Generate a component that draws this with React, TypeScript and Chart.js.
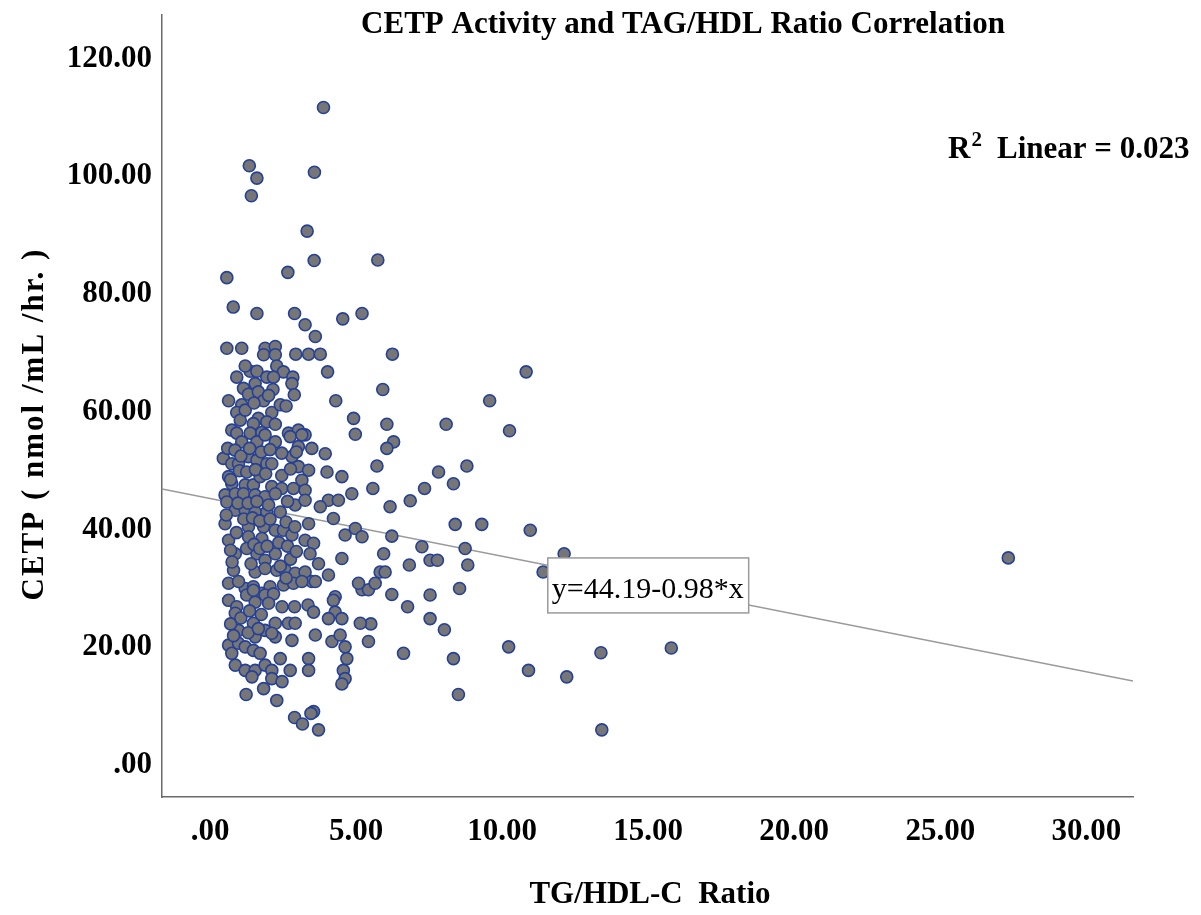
import React, { useEffect, useRef } from "react";
import { Chart, registerables } from "chart.js";
Chart.register(...registerables);

// TG/HDL-C ratio (x) and CETP activity (y)
const ratio = [
  3.88, 1.34, 1.6, 3.57, 1.41, 3.32, 5.74, 6.24, 10.82,
  3.56, 2.66, 0.57, 0.79, 1.6, 2.89, 3.25, 3.6, 4.54, 5.2, 0.57, 1.08, 1.88, 2.23, 1.83, 2.23, 2.93, 3.37, 3.77,
  2.28, 2.51, 4.02, 1.37, 1.6, 0.91, 1.94, 2.17, 2.83, 1.54, 2.8, 1.14, 1.31, 2.15, 2.88, 1.65, 4.3, 0.63, 1.08,
  1.83, 0.91, 2.11, 4.91, 1.03, 1.65, 1.48, 1.94, 2.23, 0.74, 0.91, 1.37, 1.77, 2.68, 3.02, 3.25, 4.97,
  5.91, 9.57, 8.08, 6.05, 10.25, 6.28, 6.05, 5.71, 7.82, 8.79, 8.33, 5.57, 7.34, 6.85, 6.16, 8.39, 9.3, 10.96,
  6.22, 7.25, 8.73, 12.12, 5.94, 7.53, 7.78, 8.82, 6.82, 11.4, 5.82, 5.99, 5.2, 5.42, 5.65, 6.22, 7.53, 8.54,
  6.76, 7.53, 8.02, 5.5, 5.42, 6.62, 8.33, 10.22, 10.9, 12.21, 8.5, 13.38, 13.41, 15.79, 27.33,
  1.08, 1.6, 1.88, 2.23, 2.74, 3.14, 3.02, 3.48, 3.94,
  0.45, 0.74, 0.97, 1.31, 1.6, 1.94, 2.11, 2.8, 3.02, 3.37, 4.0, 4.51,
  0.63, 0.74, 1.2, 1.48, 1.71, 2.11, 2.45, 2.85, 3.14, 3.25, 4.85, 4.05, 4.39, 3.77, 0.51, 0.86, 1.14, 1.54, 1.88, 2.23,
  0.57, 0.86, 1.2, 1.54, 1.94, 2.4, 2.91, 3.25, 3.37, 4.22,
  0.51, 1.31, 1.83, 2.23, 2.51, 2.8, 3.25, 3.54, 0.63, 1.31, 1.77, 4.62, 4.97, 5.2,
  0.86, 1.6, 1.88, 2.23, 3.42, 3.71, 4.51, 0.8, 1.54, 1.88, 2.28, 2.57, 2.91, 3.25, 3.48, 4.05,
  0.63, 1.2, 1.48, 1.77, 2.05, 2.51, 2.85, 3.14, 3.6, 4.28, 5.08, 0.97,
  0.63, 0.91, 1.25, 1.54, 1.88, 2.17, 1.48, 0.86, 2.46, 2.89, 3.35, 3.54, 4.22, 4.28, 4.51, 4.05, 5.14,
  1.48, 2.23, 2.68, 2.91, 1.88, 0.97, 1.54, 2.23, 2.11, 2.8, 3.6, 4.17, 4.45, 4.62, 4.68, 4.56, 4.62, 4.51,
  0.63, 0.74, 0.97, 1.2, 1.48, 1.71, 0.86, 1.2, 1.54, 1.88, 2.11, 1.43, 2.4, 2.74, 3.37, 3.37, 2.11, 2.46,
  1.83, 1.23, 2.28, 2.89, 3.16, 3.54, 3.45, 3.71,
  0.7, 0.75, 0.9, 0.55, 0.95, 0.7, 1.0, 0.6, 0.85, 1.05,
  1.25, 1.4, 1.5, 1.7, 1.95, 1.15, 1.45, 1.7, 2.05, 1.3, 1.6, 2.0, 1.25, 1.55, 1.9, 1.35, 1.75, 2.05,
  2.4, 2.6, 2.75, 2.35, 2.65, 2.95, 2.6, 2.9, 2.65, 2.45, 2.75, 2.45, 2.95,
  0.7, 1.05, 1.35, 1.75, 2.0, 0.8, 1.3, 1.65,
  1.2, 1.5, 2.4, 2.0, 1.2, 2.6,
];
const cetp = [
  111.7, 101.8, 99.7, 100.7, 96.7, 90.7, 85.8, 69.8, 66.8,
  85.7, 83.7, 82.8, 77.8, 76.7, 76.7, 74.8, 72.8, 75.8, 76.7, 70.8, 70.8, 70.8, 71.1, 69.7, 69.7, 69.8, 69.8, 69.8,
  67.8, 66.8, 66.8, 66.9, 66.9, 65.9, 65.9, 65.9, 65.9, 64.8, 64.8, 64.0, 63.0, 63.8, 62.9, 63.4, 61.9, 61.9, 61.2,
  61.9, 59.9, 59.9, 58.9, 58.6, 58.9, 58.0, 58.3, 57.9, 56.9, 56.4, 56.4, 56.5, 56.4, 56.9, 56.1, 56.2,
  63.8, 61.9, 57.9, 57.9, 56.8, 54.9, 53.8, 50.8, 49.8, 50.8, 47.8, 47.0, 47.0, 44.9, 43.9, 40.9, 40.9, 39.9,
  38.9, 37.1, 36.8, 35.9, 35.9, 34.8, 34.8, 34.0, 34.0, 32.8, 32.8, 32.8, 29.8, 29.8, 30.9, 29.0, 28.9, 30.0,
  26.9, 24.9, 23.0, 24.0, 21.0, 19.0, 18.1, 20.1, 16.1, 15.0, 12.0, 19.1, 6.0, 19.9, 35.2,
  54.9, 54.9, 56.1, 54.9, 55.8, 56.1, 54.1, 53.8, 52.9,
  52.1, 51.2, 51.2, 52.4, 51.8, 51.2, 51.2, 52.4, 50.7, 50.1, 49.8, 49.0,
  49.0, 47.8, 47.6, 47.6, 49.0, 47.3, 47.0, 47.0, 48.4, 46.7, 46.1, 45.0, 45.0, 43.9, 45.9, 46.1, 46.1, 45.9, 45.6, 46.1,
  44.7, 43.3, 43.3, 43.0, 43.0, 43.0, 44.2, 45.0, 41.0, 41.9,
  41.0, 40.5, 40.5, 39.9, 39.9, 39.1, 38.2, 37.7, 38.2, 38.8, 38.5, 39.1, 40.2, 38.8,
  35.9, 35.9, 34.8, 35.9, 35.9, 34.2, 35.1, 33.1, 32.8, 33.4, 33.1, 33.1, 32.6, 32.8, 31.2, 32.3,
  30.9, 30.0, 30.3, 29.2, 30.3, 30.6, 30.9, 31.2, 31.2, 28.6, 30.9, 31.2,
  28.0, 26.9, 28.9, 27.7, 28.9, 29.1, 29.7, 25.8, 26.9, 26.9, 27.2, 26.0, 28.0, 26.0, 24.9, 24.9, 24.1,
  24.1, 24.1, 24.1, 24.1, 22.9, 22.9, 21.8, 21.8, 22.4, 21.2, 22.1, 21.0, 22.1, 20.1, 18.1, 16.1, 14.7, 13.8,
  20.4, 19.0, 20.7, 20.1, 19.5, 19.0, 17.0, 16.1, 16.1, 17.0, 16.1, 15.0, 18.1, 16.1, 18.1, 16.1, 14.7, 14.2,
  13.0, 12.0, 11.0, 8.1, 7.0, 9.1, 8.8, 6.0,
  36.5, 34.5, 39.5, 42.5, 44.5, 48.5, 50.0, 53.8, 53.5, 52.5,
  36.8, 34.2, 37.5, 36.8, 37.2, 41.8, 42.0, 41.5, 41.8, 44.5, 44.8, 44.2, 49.8, 50.2, 49.5, 53.8, 53.2, 53.6,
  33.8, 31.8, 35.0, 37.8, 37.2, 36.3, 41.3, 40.5, 44.8, 49.2, 50.3, 53.0, 53.2,
  24.0, 25.0, 26.2, 25.6, 27.5, 22.0, 22.5, 23.2,
  60.3, 61.5, 61.2, 62.8, 67.8, 61.0,
];

// fit line, read at the two ends of the plotted x range
const fitX = [-1.65, 31.6];
const fitY = [46.9, 14.3];

const xTicks = [0, 5, 10, 15, 20, 25, 30];
const yTicks = [0, 20, 40, 60, 80, 100, 120];
const xRange = [-1.65, 31.6];
const yRange = [-5.4, 127.4];
const titleText = "CETP Activity and TAG/HDL Ratio Correlation";
const xTitle = "TG/HDL-C  Ratio";
const yTitle = "CETP ( nmol /mL /hr. )";
const r2Value = "0.023";
const eqText = "y=44.19-0.98*x";
const eqAnchor = [11.56, 35.2];

const SERIF = '"Liberation Serif", "Times New Roman", serif';

const fmt = (v: number) => (v === 0 ? ".00" : v.toFixed(2));

const annotPlugin = {
  id: "annot",
  afterDraw(chart: any) {
    const { ctx, scales } = chart;
    const xs = scales.x;
    const ys = scales.y;
    ctx.save();
    ctx.fillStyle = "#000";
    ctx.textBaseline = "alphabetic";
    ctx.font = `bold 31px ${SERIF}`;
    ctx.textAlign = "center";
    ctx.fillText(titleText, 683, 33);
    ctx.fillText(xTitle, 650, 903);
    ctx.save();
    ctx.translate(43, 424);
    ctx.rotate(-Math.PI / 2);
    (ctx as any).letterSpacing = "2px";
    ctx.fillText(yTitle, 0, 0);
    (ctx as any).letterSpacing = "0px";
    ctx.restore();

    // R² label
    ctx.textAlign = "left";
    ctx.font = `bold 31px ${SERIF}`;
    ctx.fillText("R", 948, 158);
    const wR = ctx.measureText("R").width;
    ctx.font = `bold 21px ${SERIF}`;
    ctx.fillText("2", 948 + wR + 1, 146);
    ctx.font = `bold 31px ${SERIF}`;
    ctx.fillText("Linear = " + r2Value, 997, 158);

    // equation box
    const bx = xs.getPixelForValue(eqAnchor[0]);
    const by = ys.getPixelForValue(eqAnchor[1]);
    ctx.font = `30px ${SERIF}`;
    const tw = ctx.measureText(eqText).width;
    const bw = tw + 9;
    const bh = 55;
    ctx.fillStyle = "#fff";
    ctx.fillRect(bx, by, bw, bh);
    ctx.strokeStyle = "#9a9a9a";
    ctx.lineWidth = 1.5;
    ctx.strokeRect(bx, by, bw, bh);
    ctx.fillStyle = "#000";
    ctx.fillText(eqText, bx + 4, by + 40);
    ctx.restore();
  },
};

export default function App() {
  const ref = useRef<HTMLCanvasElement | null>(null);
  useEffect(() => {
    if (!ref.current) return;
    const points = ratio.map((x, i) => ({ x, y: cetp[i] }));
    const fit = fitX.map((x, i) => ({ x, y: fitY[i] }));
    const chart = new Chart(ref.current, {
      type: "scatter",
      data: {
        datasets: [
          {
            type: "scatter",
            data: points,
            pointRadius: 6,
            pointBorderWidth: 1.6,
            backgroundColor: "#767676",
            borderColor: "#24409a",
            order: 0,
          } as any,
          {
            type: "line",
            data: fit,
            borderColor: "#9a9a9a",
            borderWidth: 1.5,
            pointRadius: 0,
            fill: false,
            order: 1,
          } as any,
        ],
      },
      options: {
        responsive: false,
        maintainAspectRatio: false,
        animation: false,
        layout: { padding: { left: 0, right: 68, top: 15, bottom: 0 } },
        plugins: { legend: { display: false }, tooltip: { enabled: false }, title: { display: false } },
        scales: {
          x: {
            type: "linear",
            min: xRange[0],
            max: xRange[1],
            grid: { display: false, drawTicks: false },
            border: { display: true, color: "#6a6a6a", width: 1.5 },
            afterBuildTicks: (s: any) => {
              s.ticks = xTicks.map((v) => ({ value: v }));
            },
            afterFit: (s: any) => {
              s.height = 118;
              s.paddingLeft = 0;
              s.paddingRight = 0;
            },
            ticks: {
              padding: 16,
              color: "#000",
              font: { family: SERIF, size: 31, weight: "bold" },
              callback: (v: any) => fmt(Number(v)),
              maxRotation: 0,
              autoSkip: false,
            },
          },
          y: {
            type: "linear",
            min: yRange[0],
            max: yRange[1],
            grid: { display: false, drawTicks: false },
            border: { display: true, color: "#6a6a6a", width: 1.5 },
            afterBuildTicks: (s: any) => {
              s.ticks = yTicks.map((v) => ({ value: v }));
            },
            afterFit: (s: any) => {
              s.width = 162;
              s.paddingTop = 0;
              s.paddingBottom = 0;
            },
            ticks: {
              padding: 10,
              color: "#000",
              font: { family: SERIF, size: 31, weight: "bold" },
              callback: (v: any) => fmt(Number(v)),
              autoSkip: false,
            },
          },
        },
      },
      plugins: [annotPlugin],
    });
    return () => chart.destroy();
  }, []);
  return (
    <div style={{ position: "absolute", left: 0, top: 0, width: 1201, height: 915, background: "#fff" }}>
      <canvas ref={ref} width={1201} height={915} style={{ display: "block" }} />
    </div>
  );
}
